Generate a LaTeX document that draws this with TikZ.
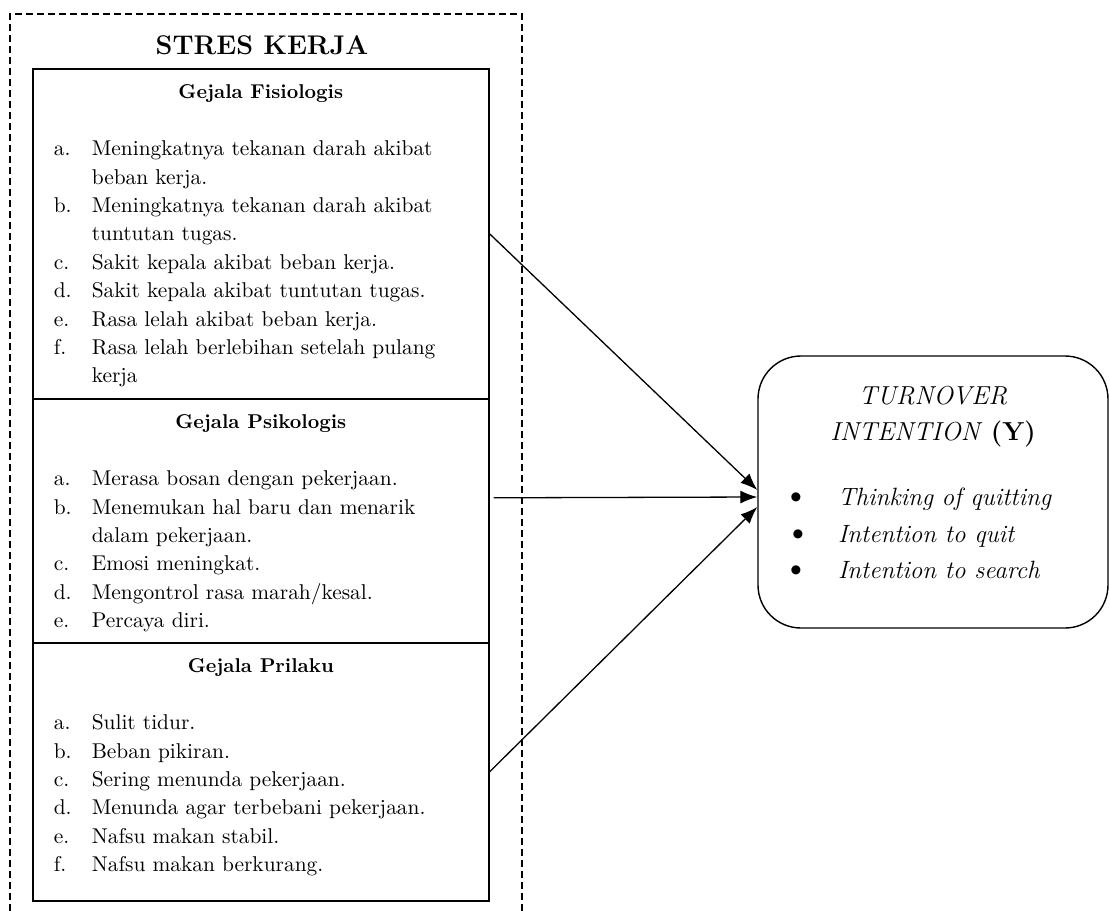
\documentclass[tikz,border=0pt]{standalone}
\usepackage{fontspec}
\usetikzlibrary{arrows.meta}

% one list item: label, text (hanging indent)
\newcommand{\butir}[2]{\par\hangindent=19pt\hangafter=1\noindent\makebox[19pt][l]{#1}#2}
% symptom block: height, header, items
\newcommand{\gejalabox}[3]{%
  \parbox[t][#1][t]{228pt}{%
    \fontsize{10.7}{14.2}\selectfont
    {\centering\bfseries\fontsize{10}{14.2}\selectfont\rule{0pt}{15pt}#2\par}%
    \vspace{14.2pt}%
    {\raggedright\leftskip=10.5pt\hyphenpenalty=10000 #3\par}}}
% bullet of the Y list
\newcommand{\titik}{\makebox[7pt]{\scalebox{1.35}{\textbullet}}}

\begin{document}
\begin{tikzpicture}[x=0.5pt, y=-0.5pt, >={Latex[length=8.5pt,width=6.5pt]},
    gbox/.style={draw, line width=0.8pt, inner sep=0pt, anchor=north west},
    ybox/.style={draw, line width=0.7pt, rounded corners=21.5pt, inner sep=0pt,
      minimum width=175pt, minimum height=136pt},
    panah/.style={->, line width=0.65pt},
    bingkai/.style={line width=0.6pt, dash pattern=on 3.5pt off 2pt}]
  \useasboundingbox (0,0) rectangle (1110,911);
  % variable X: dashed frame, open at the bottom
  \draw[bingkai] (10,911) -- (10,14) -- (522,14) -- (522,911);
  \node (judul) at (262,45) {\fontsize{13.5}{16}\selectfont\bfseries STRES KERJA};
  % three symptom blocks, stacked
  \node[gbox] (fisio) at (32,68) {\gejalabox{165pt}{Gejala Fisiologis}{%
    \butir{a.}{Meningkatnya tekanan darah akibat\newline beban kerja.}
    \butir{b.}{Meningkatnya tekanan darah akibat\newline tuntutan tugas.}
    \butir{c.}{Sakit kepala akibat beban kerja.}
    \butir{d.}{Sakit kepala akibat tuntutan tugas.}
    \butir{e.}{Rasa lelah akibat beban kerja.}
    \butir{f.}{Rasa lelah berlebihan setelah pulang\newline kerja}}};
  \node[gbox] (psiko) at (32,398) {\gejalabox{122pt}{Gejala Psikologis}{%
    \butir{a.}{Merasa bosan dengan pekerjaan.}
    \butir{b.}{Menemukan hal baru dan menarik\newline dalam pekerjaan.}
    \butir{c.}{Emosi meningkat.}
    \butir{d.}{Mengontrol rasa marah/kesal.}
    \butir{e.}{Percaya diri.}}};
  \node[gbox] (prilaku) at (32,642) {\gejalabox{129pt}{Gejala Prilaku}{%
    \butir{a.}{Sulit tidur.}
    \butir{b.}{Beban pikiran.}
    \butir{c.}{Sering menunda pekerjaan.}
    \butir{d.}{Menunda agar terbebani pekerjaan.}
    \butir{e.}{Nafsu makan stabil.}
    \butir{f.}{Nafsu makan berkurang.}}};
  % variable Y
  \node[ybox] (turnover) at (933,492) {\parbox[c][136pt][t]{175pt}{%
    {\centering\fontsize{13}{18}\selectfont\rule{0pt}{24pt}\textit{TURNOVER}\\
      \textit{INTENTION} \textbf{(Y)}\par}%
    \vspace{14.7pt}%
    {\fontsize{12.5}{18.25}\selectfont
      \hspace*{15.5pt}\titik\hspace{17.5pt}\textit{Thinking of quitting}\\
      \hspace*{16.5pt}\titik\hspace{16.5pt}\textit{Intention to quit}\\
      \hspace*{15.5pt}\titik\hspace{17.5pt}\textit{Intention to search}\par}}};
  % arrows X -> Y
  \draw[panah] (fisio.east) -- ([yshift=1pt]turnover.west);
  \draw[panah] ([xshift=2pt,yshift=11.5pt]psiko.east) -- ([yshift=-2.5pt]turnover.west);
  \draw[panah] (prilaku.east) -- ([yshift=-7.5pt]turnover.west);
\end{tikzpicture}
\end{document}
